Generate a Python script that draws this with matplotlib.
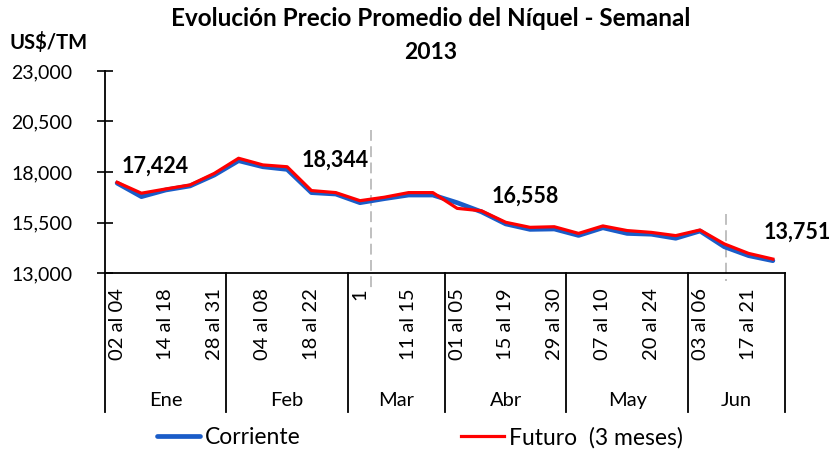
import matplotlib.pyplot as plt

plt.rcParams['font.family'] = ['Lato', 'DejaVu Sans']

# weekly categories, 2013
semanas = ["02 al 04", "07 al 11", "14 al 18", "21 al 25", "28 al 31",
           "01", "04 al 08", "11 al 15", "18 al 22", "25 al 28",
           "1", "04 al 08", "11 al 15", "18 al 22",
           "01 al 05", "08 al 12", "15 al 19", "22 al 26", "29 al 30",
           "01 al 03", "07 al 10", "13 al 17", "20 al 24", "27 al 31",
           "03 al 06", "10 al 14", "17 al 21", "24 al 28"]
meses = ["Ene", "Feb", "Mar", "Abr", "May", "Jun"]
semanas_por_mes = [5, 5, 4, 5, 5, 4]

corriente = [17450, 16780, 17110, 17310, 17850,
             18560, 18260, 18130, 16980, 16910,
             16480, 16680, 16860, 16860,
             16480, 16030, 15430, 15160, 15180,
             14860, 15240, 14960, 14920, 14720,
             15080, 14300, 13860, 13610]
futuro = [17490, 16950, 17160, 17360, 17930,
          18680, 18350, 18260, 17080, 16980,
          16580, 16750, 16980, 16980,
          16200, 16080, 15510, 15260, 15290,
          14960, 15330, 15100, 15010, 14850,
          15130, 14440, 13970, 13690]

# monthly averages written on the chart: (label, category position, value position)
etiquetas = [("17,424", 1.56, 18300), ("18,344", 8.97, 18600),
             ("16,558", 16.79, 16790), ("13,751", 27.99, 15000)]

fig = plt.figure(figsize=(8.31, 4.51), dpi=100)
ax = fig.add_axes([105 / 831, 1 - 273 / 451, 680 / 831, 202 / 451])

x = list(range(len(semanas)))
ax.plot(x, corriente, color='#1A5CC8', lw=3.4, solid_capstyle='round',
        solid_joinstyle='round', label='Corriente', zorder=3)
ax.plot(x, futuro, color='#FF0000', lw=2.3, solid_joinstyle='round',
        label='Futuro  (3 meses)', zorder=4)

ax.set_xlim(-0.5, len(semanas) - 0.5)
ax.set_ylim(13000, 23000)
ax.set_yticks(range(13000, 23001, 2500))
ax.set_yticklabels([f"{v:,}" for v in range(13000, 23001, 2500)])
ax.tick_params(axis='y', direction='inout', length=11, width=1.2,
               labelsize=14, pad=18)
ax.tick_params(axis='x', length=0, labelbottom=False)
for s in ['top', 'right']:
    ax.spines[s].set_visible(False)
ax.spines['left'].set_linewidth(1.3)
ax.spines['bottom'].set_linewidth(1.3)

# two-level category axis
tr = ax.get_xaxis_transform()
for i, lab in enumerate(semanas):
    if i % 2 == 0:
        ax.text(i, -0.075, lab, transform=tr, rotation=90, ha='center',
                va='top', fontsize=14.5, clip_on=False)
inicio = -0.5
ax.plot([inicio, inicio], [0, -0.69], transform=tr, color='black', lw=1.3,
        clip_on=False)
for mes, n in zip(meses, semanas_por_mes):
    fin = inicio + n
    ax.plot([fin, fin], [0, -0.69], transform=tr, color='black', lw=1.3,
            clip_on=False)
    ax.text((inicio + fin) / 2, -0.63, mes, transform=tr, ha='center',
            va='center', fontsize=14.5, clip_on=False)
    inicio = fin

# gray dashed markers
ax.plot([10.45, 10.45], [0.71, -0.08], transform=tr, color='#BBBBBB',
        lw=1.3, ls=(0, (6, 3)), clip_on=False)
ax.plot([25.07, 25.07], [0.29, -0.04], transform=tr, color='#BBBBBB',
        lw=1.3, ls=(0, (6, 3)), clip_on=False)

for txt, xp, yp in etiquetas:
    ax.text(xp, yp, txt, fontsize=15.5, fontweight='bold', ha='center',
            va='center', clip_on=False)

fig.text(0.518, 0.96, "Evolución Precio Promedio del Níquel - Semanal",
         ha='center', va='center', fontsize=17.5, fontweight='bold')
fig.text(0.518, 0.883, "2013", ha='center', va='center', fontsize=16.5,
         fontweight='bold')
fig.text(0.012, 0.905, "US$/TM", ha='left', va='center', fontsize=14.5,
         fontweight='bold')

fig.legend(loc='center', bbox_to_anchor=(0.505, 0.03), ncol=2,
           frameon=False, fontsize=16.5, handlelength=1.9, handletextpad=0.2,
           columnspacing=7.0)

fig.savefig("out.png", dpi=100)
